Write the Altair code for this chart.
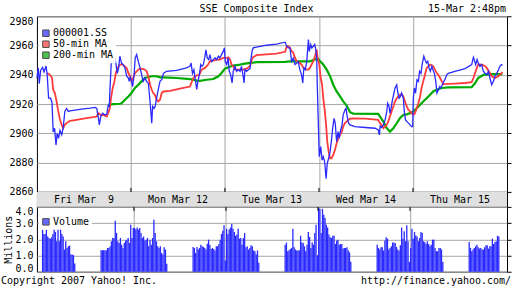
import altair as alt
import pandas as pd

FONT = "DejaVu Sans Mono"
BLUE = "#2a2aff"
RED = "#ff3a3a"
GREEN = "#00aa00"
GRID = "#a6a6a6"
BAND = "#e0e0e0"

# x = minutes of trading-day clock since Fri 09:30 (each day 09:30-15:00 = 330 min)
day_labels = ["Fri Mar\u00a0 9", "Mon Mar 12", "Tue Mar 13", "Wed Mar 14", "Thu Mar 15"]
day_len = 330
day_bounds = [330, 660, 990, 1320]
price_ticks = [2860, 2880, 2900, 2920, 2940, 2960, 2980]
vol_ticks = [0, 1, 2, 3, 4]

series_names = ["000001.SS", "50-min MA", "200-min MA"]

index_pts = [(0,2937.8),(5,2944.7),(8,2934.0),(13,2943.0),(20,2945.0),(25,2942.0),(32,2946.0),(36,2940.0),(41,2924.0),(48,2924.0),
 (53,2921.0),(57,2901.0),(62,2903.5),(67,2892.0),(71,2900.0),(76,2896.6),(81,2902.0),(87,2899.0),(92,2903.5),(98,2915.0),
 (104,2917.0),(110,2915.0),(116,2915.4),(139,2916.0),(163,2916.7),(186,2917.2),(204,2917.7),(210,2917.0),(215,2911.5),(219,2905.8),
 (224,2911.5),(231,2913.8),(239,2912.6),(245,2913.0),(250,2919.0),(254,2918.4),(256,2928.6),(260,2944.7),(263,2956.0),(268,2949.0),
 (273,2951.5),(277,2948.0),(282,2941.0),(287,2944.7),(291,2952.7),(297,2948.0),(303,2947.0),(309,2944.7),(315,2939.0),(321,2937.8),
 (324,2935.5),(327,2938.3),(332,2935.5),(336,2932.0),(341,2940.0),(345,2951.5),(350,2953.8),(356,2949.0),(362,2944.7),(373,2935.5),
 (379,2937.8),(385,2935.5),(391,2934.4),(397,2921.8),(403,2907.0),(406,2918.4),(411,2917.0),(415,2918.4),(420,2924.0),(426,2930.0),
 (432,2935.5),(438,2936.6),(444,2941.0),(455,2942.4),(490,2943.0),(525,2944.7),(537,2945.8),(541,2948.0),(546,2941.0),(551,2943.5),
 (556,2936.6),(561,2930.0),(565,2935.5),(570,2940.0),(575,2947.0),(579,2945.8),(584,2947.0),(590,2952.7),(593,2957.0),(598,2951.5),
 (603,2950.4),(607,2953.8),(613,2949.0),(619,2950.4),(625,2951.5),(631,2950.4),(637,2952.7),(642,2951.5),(648,2953.8),(654,2956.0),
 (658,2958.4),(661,2949.0),(666,2947.0),(671,2951.5),(675,2942.4),(680,2940.0),(685,2934.4),(689,2942.4),(695,2945.8),(701,2942.4),
 (707,2943.5),(713,2942.4),(718,2945.8),(724,2939.0),(727,2934.4),(730,2943.5),(736,2942.4),(742,2943.5),(748,2944.2),(751,2950.4),
 (755,2956.0),(759,2958.4),(771,2958.9),(806,2960.2),(841,2961.0),(871,2962.3),(877,2959.5),(882,2958.4),(888,2958.4),(894,2949.2),
 (900,2951.5),(906,2947.0),(912,2948.0),(917,2949.0),(923,2943.5),(929,2940.0),(933,2934.4),(937,2944.7),(942,2943.5),(947,2949.0),
 (953,2964.0),(956,2956.0),(961,2960.7),(965,2958.4),(970,2959.5),(975,2960.7),(979,2957.0),(982,2951.5),(984,2933.2),(991,2884.0),
 (996,2891.0),(1001,2881.7),(1005,2884.0),(1010,2880.6),(1015,2869.0),(1019,2879.5),(1024,2883.0),(1029,2887.5),(1034,2895.5),(1038,2903.5),
 (1043,2910.3),(1047,2907.0),(1052,2894.3),(1057,2901.2),(1061,2896.6),(1066,2902.3),(1071,2905.8),(1075,2912.6),(1081,2916.0),(1085,2917.2),
 (1089,2911.5),(1094,2907.0),(1099,2905.8),(1116,2904.6),(1152,2904.0),(1187,2903.5),(1198,2902.3),(1202,2899.0),(1205,2905.0),(1210,2904.0),
 (1216,2905.8),(1222,2909.0),(1228,2915.0),(1231,2920.6),(1236,2918.4),(1239,2913.8),(1243,2917.0),(1247,2921.8),(1252,2926.4),(1257,2931.0),
 (1263,2933.2),(1266,2928.6),(1271,2924.0),(1276,2925.2),(1280,2927.5),(1286,2924.0),(1290,2913.8),(1294,2909.0),(1299,2908.0),(1304,2907.0),
 (1310,2905.8),(1315,2904.6),(1319,2904.6),(1321,2924.0),(1325,2931.0),(1329,2927.5),(1334,2936.6),(1339,2935.5),(1343,2942.4),(1348,2941.0),
 (1353,2948.0),(1358,2952.7),(1362,2950.4),(1367,2948.0),(1372,2949.2),(1376,2944.7),(1381,2942.4),(1386,2945.8),(1390,2943.5),(1395,2941.0),
 (1400,2935.5),(1404,2927.5),(1409,2929.7),(1414,2932.0),(1418,2931.0),(1423,2933.2),(1428,2935.5),(1432,2936.6),(1438,2940.0),(1444,2941.0),
 (1467,2942.4),(1503,2944.2),(1526,2947.0),(1532,2952.0),(1535,2950.4),(1540,2947.0),(1545,2950.4),(1549,2948.0),(1555,2945.8),(1561,2947.0),
 (1567,2942.4),(1573,2941.0),(1579,2940.0),(1585,2942.4),(1590,2937.8),(1596,2933.2),(1602,2935.5),(1608,2939.0),(1614,2941.0),(1620,2943.5),
 (1625,2945.8),(1631,2947.0),(1634,2946.5)]

ma50_pts = [(36,2941.2),(46,2940.0),(53,2937.8),(57,2929.8),(63,2927.5),(69,2921.8),(75,2915.0),(81,2909.2),(87,2905.8),(92,2903.5),
 (98,2905.8),(104,2907.0),(116,2908.5),(139,2909.2),(163,2910.0),(186,2910.8),(210,2911.5),(215,2913.8),(221,2913.0),(227,2912.2),
 (233,2912.6),(245,2911.5),(250,2913.8),(256,2917.2),(260,2924.0),(266,2931.0),(272,2935.5),(277,2941.2),(283,2944.7),(291,2947.0),
 (301,2947.0),(309,2945.8),(315,2944.7),(321,2941.2),(327,2939.0),(332,2935.5),(338,2937.8),(344,2941.2),(350,2942.4),(356,2943.5),
 (362,2944.2),(373,2944.0),(379,2943.5),(385,2942.4),(391,2939.0),(397,2933.2),(403,2929.8),(408,2927.5),(414,2926.4),(420,2923.0),
 (426,2921.8),(432,2923.0),(438,2927.5),(444,2928.6),(467,2929.0),(502,2930.5),(537,2932.0),(549,2937.8),(561,2939.6),(570,2940.0),
 (578,2943.5),(590,2944.7),(601,2947.0),(607,2949.2),(619,2949.6),(631,2950.4),(642,2950.4),(654,2951.5),(666,2951.5),(672,2952.0),
 (678,2950.4),(683,2947.0),(689,2945.8),(695,2943.5),(713,2943.5),(724,2943.5),(736,2944.2),(748,2945.8),(754,2950.4),(759,2952.0),
 (771,2953.4),(806,2954.0),(841,2954.5),(871,2955.7),(877,2959.5),(882,2959.5),(888,2958.4),(894,2956.1),(900,2955.0),(906,2951.5),
 (912,2949.2),(923,2948.0),(929,2947.0),(935,2944.7),(941,2944.2),(947,2943.5),(953,2943.5),(958,2944.7),(964,2947.0),(970,2949.2),
 (976,2952.7),(982,2957.3),(985,2951.5),(991,2947.0),(996,2937.8),(1001,2933.2),(1005,2924.0),(1010,2916.0),(1015,2905.8),(1019,2894.3),
 (1024,2887.5),(1029,2882.9),(1034,2882.9),(1040,2885.2),(1046,2888.6),(1052,2893.2),(1058,2896.6),(1064,2898.9),(1070,2901.2),(1075,2904.6),
 (1081,2907.0),(1087,2908.0),(1093,2909.2),(1099,2910.0),(1110,2910.3),(1152,2910.0),(1198,2909.2),(1204,2907.0),(1210,2905.8),(1216,2903.5),
 (1222,2904.6),(1228,2905.8),(1233,2908.0),(1239,2911.5),(1245,2915.0),(1251,2918.4),(1257,2921.8),(1263,2924.0),(1269,2925.2),(1274,2926.4),
 (1280,2926.8),(1286,2925.2),(1292,2921.8),(1298,2918.4),(1304,2916.0),(1310,2915.0),(1315,2913.8),(1321,2912.6),(1327,2913.8),(1333,2917.2),
 (1339,2920.6),(1345,2925.2),(1350,2931.0),(1356,2935.5),(1362,2940.0),(1368,2944.7),(1374,2945.8),(1380,2947.0),(1386,2946.5),(1391,2945.8),
 (1397,2943.5),(1403,2941.2),(1409,2940.0),(1415,2937.8),(1421,2935.5),(1427,2933.7),(1467,2934.0),(1503,2934.4),(1526,2935.0),(1532,2937.8),
 (1538,2941.2),(1544,2944.7),(1549,2947.0),(1561,2947.0),(1567,2946.5),(1573,2945.8),(1579,2944.7),(1585,2942.8),(1590,2941.2),(1596,2939.0),
 (1608,2937.8),(1620,2939.0),(1631,2941.2),(1634,2941.8)]

ma200_pts = [(250,2919.5),(268,2920.0),(291,2920.2),(297,2920.6),(309,2923.0),(321,2925.2),(332,2927.5),(344,2931.0),(356,2933.2),(367,2935.5),
 (379,2937.8),(391,2938.5),(403,2939.0),(420,2939.0),(432,2938.3),(444,2938.3),(490,2937.8),(537,2937.1),(561,2936.0),(572,2935.8),
 (596,2936.6),(619,2937.1),(637,2939.0),(648,2941.2),(660,2944.2),(672,2945.1),(689,2946.3),(713,2947.0),(730,2947.6),(748,2948.1),
 (771,2948.6),(871,2948.8),(888,2949.2),(958,2949.2),(976,2950.4),(984,2951.5),(994,2949.2),(1005,2947.0),(1017,2943.5),(1029,2939.0),
 (1040,2933.2),(1052,2928.6),(1064,2925.2),(1075,2921.8),(1087,2919.0),(1099,2914.5),(1110,2913.5),(1198,2913.3),(1204,2911.5),(1216,2908.0),
 (1228,2903.5),(1239,2901.2),(1251,2903.5),(1263,2906.9),(1274,2910.3),(1286,2912.6),(1298,2913.0),(1310,2913.8),(1321,2915.0),(1333,2917.2),
 (1345,2919.5),(1356,2921.8),(1368,2924.0),(1380,2926.4),(1391,2928.6),(1403,2929.8),(1421,2931.0),(1444,2931.4),(1526,2931.6),(1538,2934.4),
 (1549,2937.8),(1567,2940.0),(1596,2940.5),(1634,2940.5)]

# volume (millions), one list per trading session; session start minutes
session_starts = [0, 210, 330, 540, 660, 870, 990, 1200, 1320, 1530]
bar_step = 120 / 26
vol_sessions = [
 [2.6, 2.33, 2.33, 2.6, 2.18, 2.08, 2.04, 2.12, 2.33, 2.65, 2.45, 1.88, 2.8, 1.88, 2.96, 2.33, 2.18, 1.37, 1.88, 1.47, 1.57, 1.61, 1.06, 1.06, 1.02, 0.51],
 [1.33, 1.33, 1.33, 1.33, 1.33, 1.47, 1.47, 1.57, 1.88, 2.08, 2.08, 3.14, 2.39, 1.88, 1.78, 2.08, 1.67, 1.47, 1.78, 1.92, 1.98, 2.08, 1.78, 2.9, 2.08, 2.7],
 [2.7, 2.6, 2.73, 2.6, 2.7, 2.39, 2.08, 2.18, 1.92, 1.98, 2.08, 1.57, 1.98, 1.67, 2.08, 3.2, 2.39, 1.88, 1.57, 1.47, 1.57, 1.16, 1.06, 1.51, 1.37, 0.49],
 [1.53, 1.47, 1.16, 1.53, 1.37, 1.47, 1.67, 1.57, 1.53, 1.47, 1.37, 1.73, 1.98, 1.67, 1.41, 1.47, 1.41, 1.31, 1.57, 1.57, 1.71, 1.98, 2.33, 2.53, 2.86, 0.69],
 [2.65, 2.33, 2.6, 2.73, 2.94, 2.65, 2.45, 2.22, 2.29, 2.65, 2.04, 2.08, 1.67, 2.08, 2.39, 1.51, 1.57, 1.37, 1.47, 1.63, 1.57, 1.31, 1.27, 1.06, 1.31, 0.55],
 [1.67, 1.8, 1.27, 1.33, 1.41, 1.47, 2.65, 1.51, 1.37, 1.31, 1.31, 1.33, 2.22, 1.8, 1.78, 1.57, 1.27, 1.67, 2.45, 2.14, 1.47, 1.8, 1.67, 2.39, 2.9, 1.02],
 [3.96, 3.88, 2.39, 3.88, 3.51, 3.31, 2.9, 2.73, 2.29, 2.12, 2.08, 2.22, 2.22, 1.71, 1.92, 1.98, 1.67, 1.71, 1.71, 1.43, 1.47, 1.47, 1.51, 1.33, 1.2, 0.61],
 [1.67, 1.47, 1.37, 1.51, 1.51, 1.31, 1.92, 2.12, 2.04, 1.37, 1.47, 1.57, 1.8, 1.8, 1.78, 1.53, 1.37, 1.31, 1.63, 2.73, 2.04, 2.49, 1.88, 2.86, 1.88, 0.61],
 [1.47, 2.65, 2.04, 2.45, 2.24, 2.18, 1.88, 2.08, 2.45, 2.39, 1.88, 1.84, 1.71, 1.88, 1.71, 1.57, 1.67, 1.98, 1.98, 1.47, 1.27, 1.27, 1.47, 1.47, 1.37, 0.61],
 [1.84, 1.47, 1.27, 1.37, 1.47, 1.57, 1.67, 1.51, 1.43, 1.47, 1.37, 1.37, 1.51, 1.63, 1.63, 1.43, 1.57, 1.57, 2.04, 1.71, 1.84, 1.88, 2.22, 2.18],
]

chart_title = "SSE Composite Index"
chart_stamp = "15-Mar 2:48pm"
copyright_text = "Copyright 2007 Yahoo! Inc."
url_text = "http://finance.yahoo.com/"

# ---------------- data frames ----------------
def pts_df(pts, name):
    return pd.DataFrame({"t": [p[0] for p in pts], "v": [p[1] for p in pts], "series": name})

price_df = pd.concat([pts_df(index_pts, series_names[0]), pts_df(ma50_pts, series_names[1]),
                      pts_df(ma200_pts, series_names[2])], ignore_index=True)
legend_df = pd.DataFrame({"t": [-100] * 3, "v": [2920] * 3, "series": series_names})

vol_rows = []
for start, vals in zip(session_starts, vol_sessions):
    for i, val in enumerate(vals):
        vol_rows.append({"t": start + (i + 0.5) * bar_step, "vol": val, "series": "Volume"})
vol_df = pd.DataFrame(vol_rows)
vol_legend_df = pd.DataFrame({"t": [-100], "vol": [2.0], "series": ["Volume"]})

band_df = pd.DataFrame({
    "label": day_labels,
    "start": [i * day_len for i in range(5)],
    "end": [(i + 1) * day_len for i in range(5)],
    "mid": [i * day_len + day_len / 2 for i in range(5)],
    "lo": [0] * 5, "hi": [1] * 5,
})
bound_df = pd.DataFrame({"t": day_bounds})

# ---------------- geometry ----------------
W, H_MAIN, H_BAND, H_VOL = 471, 176, 15, 65
xscale = alt.Scale(domain=[0, 5 * day_len], nice=False, zero=False)
pscale = alt.Scale(domain=[2860, 2980], nice=False, zero=False)
vscale = alt.Scale(domain=[0, 4], nice=False, zero=True)

x_grid_axis = alt.Axis(values=day_bounds, grid=True, gridColor=GRID, gridWidth=1, ticks=False,
                       labels=False, domain=False, title=None)

y_main_axis = alt.Axis(values=price_ticks, format="d", grid=True, gridColor=GRID, gridWidth=1, ticks=False,
                       domain=False, labelFont=FONT, labelFontSize=10, labelColor="black", labelPadding=4,
                       labelBaseline={"condition": {"test": "datum.value >= 2980", "value": "top"}, "value": "middle"},
                       title=None, minExtent=36, maxExtent=36)
y_main_right = alt.Axis(values=price_ticks, orient="right", grid=False, ticks=True, tickSize=4, tickColor="black",
                        labels=False, domain=False, title=None)

y_vol_axis = alt.Axis(values=vol_ticks, format=".1f", grid=True, gridColor=GRID, gridWidth=1, ticks=False, domain=False,
                      labelFont=FONT, labelFontSize=10, labelColor="black", labelPadding=4,
                      labelBaseline={"condition": [{"test": "datum.value >= 4", "value": "top"},
                                                   {"test": "datum.value <= 0", "value": "alphabetic"}],
                                     "value": "middle"},
                      title="Millions", titleFont=FONT, titleFontSize=10, titleFontWeight="normal",
                      titleColor="black", titleX=-28, titleBaseline="middle",
                      minExtent=36, maxExtent=36)
y_vol_right = alt.Axis(values=vol_ticks, orient="right", grid=False, ticks=True, tickSize=4, tickColor="black",
                       labels=False, domain=False, title=None)

legend_common = dict(title=None, orient="none", legendX=2, legendY=10, fillColor="white", padding=2,
                     symbolType="square", symbolSize=42, symbolStrokeColor="black", symbolStrokeWidth=1,
                     labelFont=FONT, labelFontSize=10, labelColor="black", labelOffset=2, rowPadding=-2)

# ---------------- main price panel ----------------
def price_line(name, color, width):
    return alt.Chart(price_df).transform_filter(alt.datum.series == name).mark_line(
        color=color, strokeWidth=width).encode(
        x=alt.X("t:Q", scale=xscale, axis=x_grid_axis),
        y=alt.Y("v:Q", scale=pscale, axis=y_main_axis),
    )

price_legend = alt.Chart(legend_df).mark_square(size=30, clip=True).encode(
    x=alt.X("t:Q", scale=xscale, axis=x_grid_axis),
    y=alt.Y("v:Q", scale=pscale, axis=y_main_axis),
    fill=alt.Fill("series:N", scale=alt.Scale(domain=series_names, range=[BLUE, RED, GREEN]),
                  legend=alt.Legend(**legend_common)),
    stroke=alt.value("black"), strokeWidth=alt.value(1),
)

# short inward ticks at day boundaries on the bottom edge of the price panel
main_ticks = alt.Chart(bound_df).mark_rule(color="black", strokeWidth=1).encode(
    x=alt.X("t:Q", scale=xscale, axis=x_grid_axis), y=alt.value(H_MAIN - 4), y2=alt.value(H_MAIN))

title_left = alt.Chart(pd.DataFrame({"s": [chart_title]})).mark_text(
    font=FONT, fontSize=10, align="center", baseline="middle", color="black").encode(
    text="s:N", x=alt.value(220), y=alt.value(-7))
title_right = alt.Chart(pd.DataFrame({"s": [chart_stamp]})).mark_text(
    font=FONT, fontSize=10, align="right", baseline="middle", color="black").encode(
    text="s:N", x=alt.value(470), y=alt.value(-7))

main_inner = alt.layer(price_line(series_names[2], GREEN, 2.2),
                       price_line(series_names[1], RED, 1.8),
                       price_line(series_names[0], BLUE, 1.3),
                       main_ticks, price_legend, title_left, title_right)
main_right = alt.Chart(price_df).mark_line(opacity=0).encode(
    x=alt.X("t:Q", scale=xscale, axis=x_grid_axis),
    y=alt.Y("v:Q", scale=pscale, axis=y_main_right))
main = alt.layer(main_inner, main_right).resolve_scale(y="independent").properties(width=W, height=H_MAIN)

# ---------------- date band ----------------
band_rect = alt.Chart(band_df).mark_rect(color=BAND).encode(
    x=alt.X("start:Q", scale=xscale, axis=None), x2="end:Q",
    y=alt.Y("lo:Q", scale=alt.Scale(domain=[0, 1], nice=False),
            axis=alt.Axis(labels=False, ticks=False, domain=False, grid=False, title=None,
                          minExtent=36, maxExtent=36)),
    y2="hi:Q")
band_text = alt.Chart(band_df).mark_text(font=FONT, fontSize=10, baseline="middle", align="center",
                                         color="black").encode(
    x=alt.X("mid:Q", scale=xscale, axis=None), y=alt.value(H_BAND / 2 + 0.5), text="label:N")
band = alt.layer(band_rect, band_text).properties(width=W, height=H_BAND)

# ---------------- volume panel ----------------
bars = alt.Chart(vol_df).mark_bar(size=1.3, color=BLUE).encode(
    x=alt.X("t:Q", scale=xscale, axis=x_grid_axis),
    y=alt.Y("vol:Q", scale=vscale, axis=y_vol_axis))
vol_legend = alt.Chart(vol_legend_df).mark_square(size=30, clip=True).encode(
    x=alt.X("t:Q", scale=xscale, axis=x_grid_axis),
    y=alt.Y("vol:Q", scale=vscale, axis=y_vol_axis),
    fill=alt.Fill("series:N", scale=alt.Scale(domain=["Volume"], range=[BLUE]),
                  legend=alt.Legend(**dict(legend_common, legendY=8))),
    stroke=alt.value("black"), strokeWidth=alt.value(1))
vol_ticks_marks = alt.Chart(bound_df).mark_rule(color="black", strokeWidth=1).encode(
    x=alt.X("t:Q", scale=xscale, axis=x_grid_axis), y=alt.value(0), y2=alt.value(4))
foot_left = alt.Chart(pd.DataFrame({"s": [copyright_text]})).mark_text(
    font=FONT, fontSize=10, align="left", baseline="middle", color="black").encode(
    text="s:N", x=alt.value(-36), y=alt.value(H_VOL + 9))
foot_right = alt.Chart(pd.DataFrame({"s": [url_text]})).mark_text(
    font=FONT, fontSize=10, align="right", baseline="middle", color="black").encode(
    text="s:N", x=alt.value(W + 4), y=alt.value(H_VOL + 9))
vol_inner = alt.layer(bars, vol_ticks_marks, vol_legend, foot_left, foot_right)
vol_right = alt.Chart(vol_df).mark_bar(opacity=0, size=1).encode(
    x=alt.X("t:Q", scale=xscale, axis=x_grid_axis),
    y=alt.Y("vol:Q", scale=vscale, axis=y_vol_right))
vol = alt.layer(vol_inner, vol_right).resolve_scale(y="independent").properties(width=W, height=H_VOL)

chart = alt.vconcat(main, band, vol, spacing=0, bounds="flush").resolve_scale(
    x="independent", fill="independent").resolve_legend(fill="independent").properties(
    padding={"left": 0, "top": 3, "right": 0, "bottom": 0}, background="white"
).configure_view(stroke="black", strokeWidth=1)

chart.save("out.html", embed_options={"renderer": "svg", "actions": False})
